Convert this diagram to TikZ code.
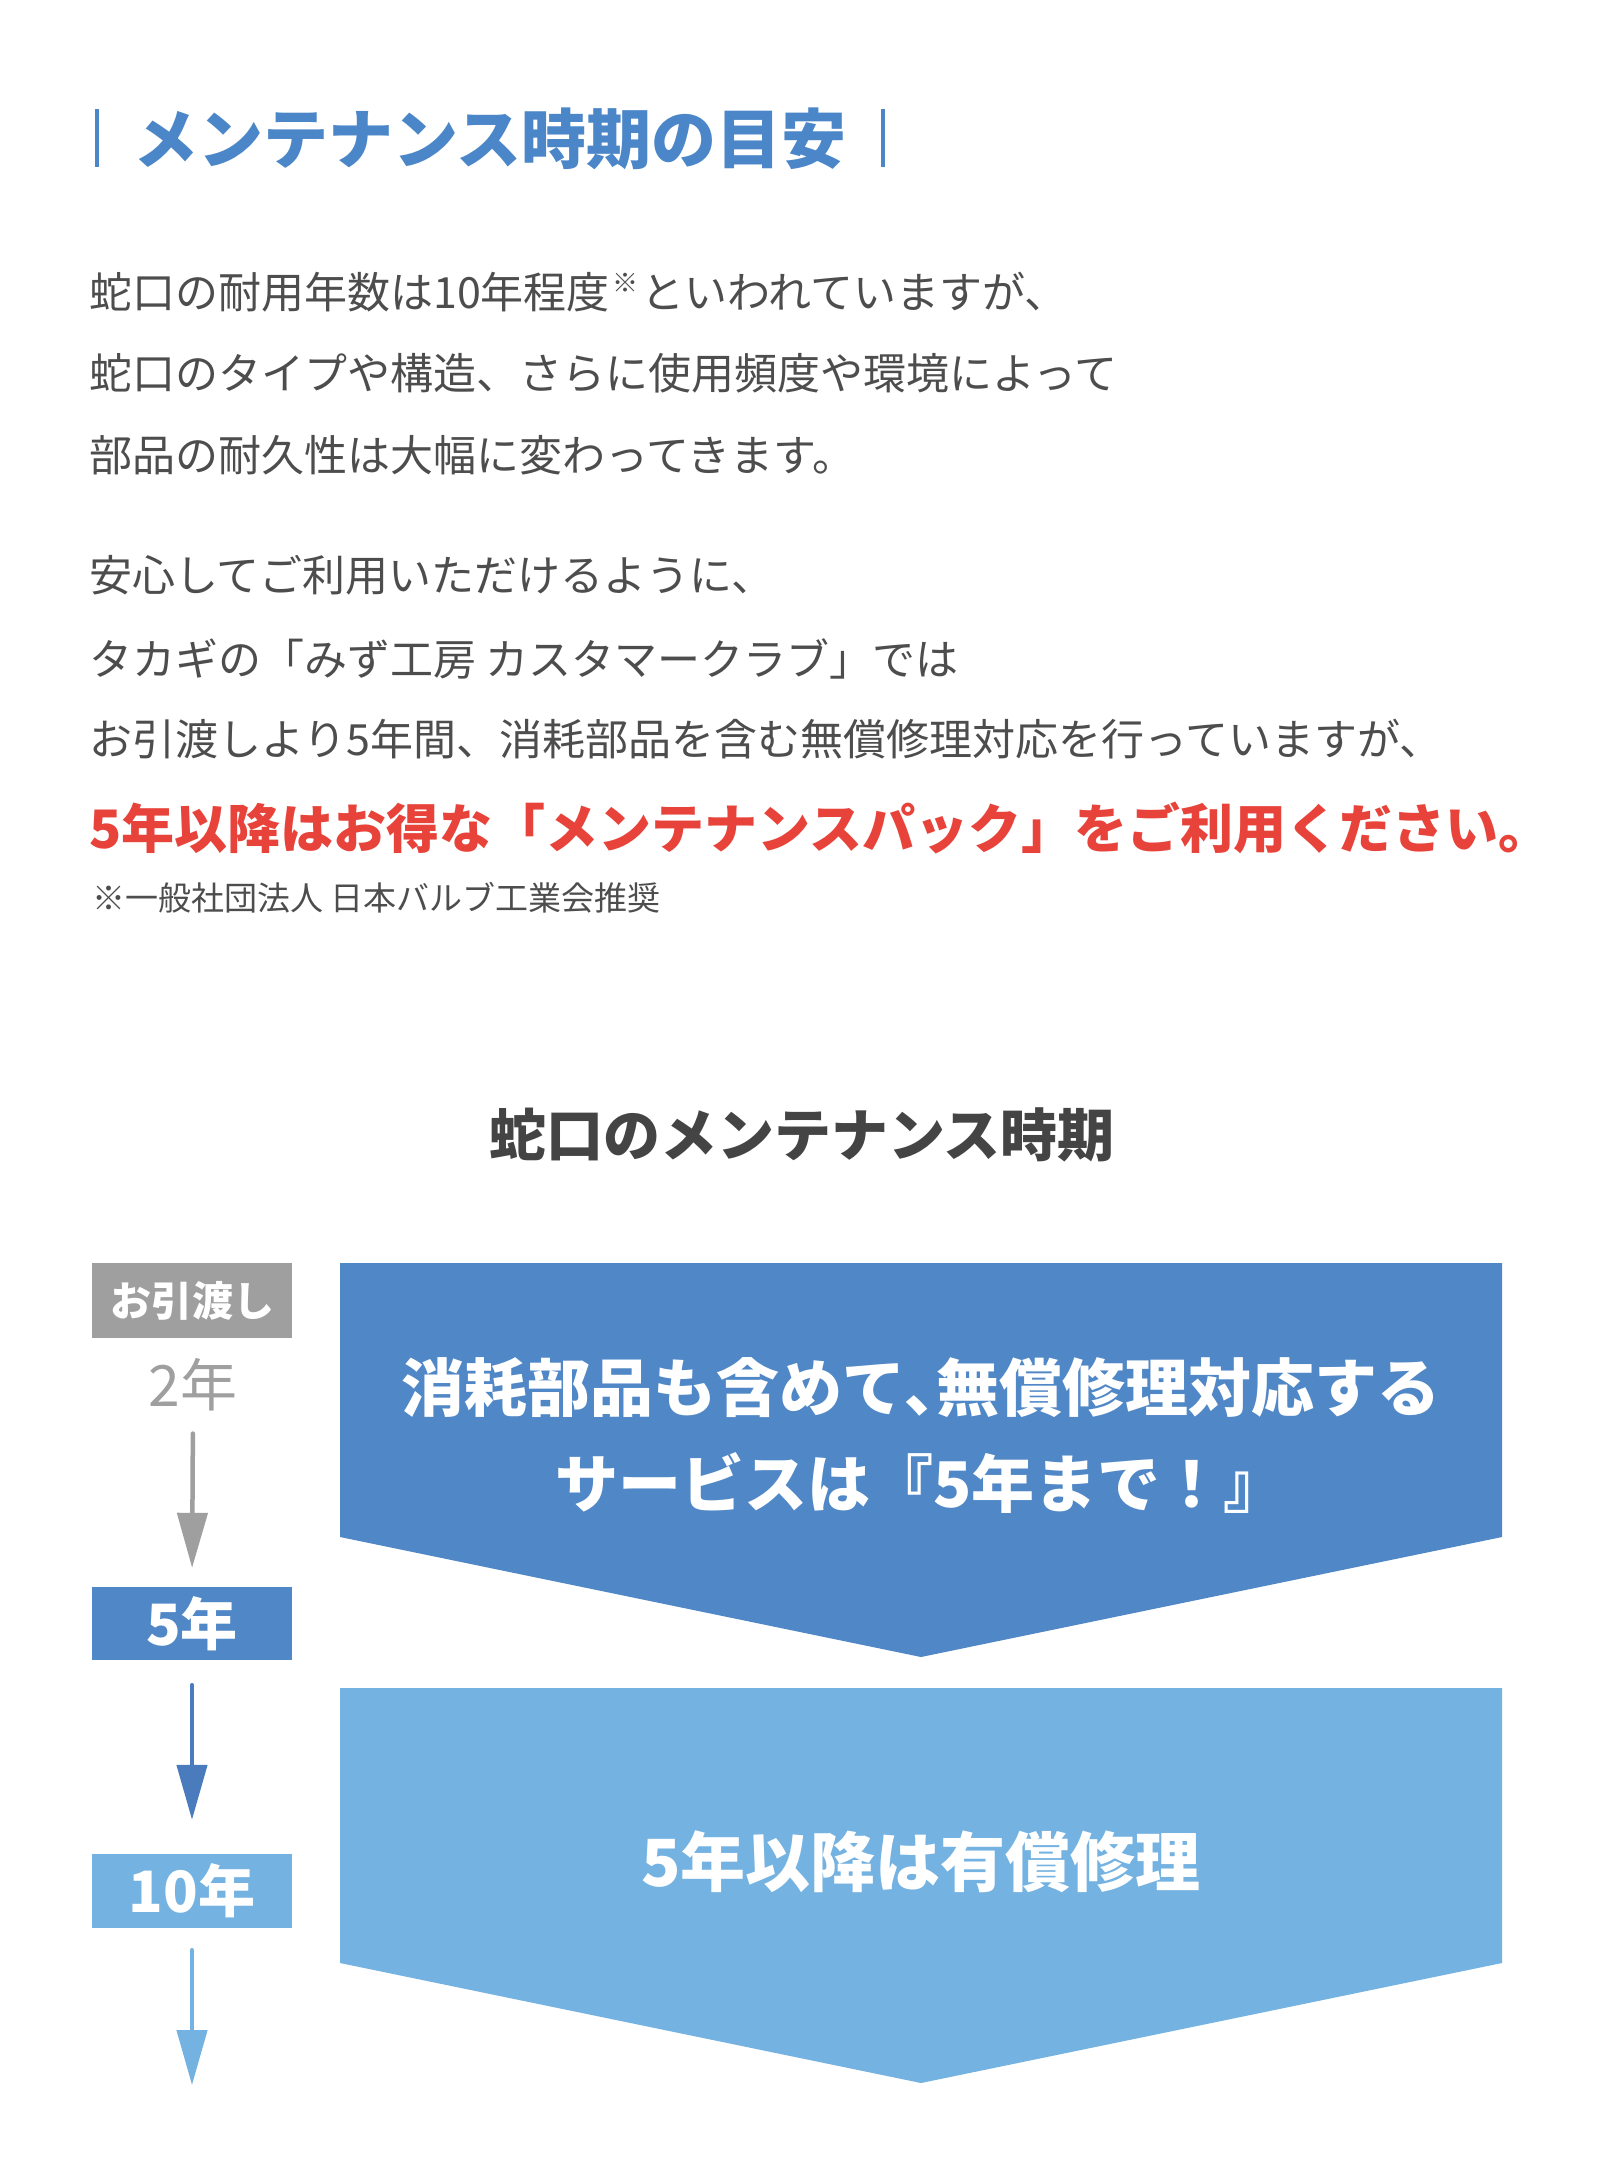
\documentclass[tikz,border=0pt]{standalone}
\usepackage{fontspec}
\setmainfont{Noto Sans CJK JP}
\usetikzlibrary{arrows.meta}
\definecolor{titleblue}{HTML}{4A86C8}
\definecolor{textgray}{HTML}{4D4D4D}
\definecolor{headgray}{HTML}{444444}
\definecolor{accentred}{HTML}{E8433A}
\definecolor{boxgray}{HTML}{9F9F9F}
\definecolor{midblue}{HTML}{5087C6}
\definecolor{arrowblue}{HTML}{4A7BBD}
\definecolor{lightblue}{HTML}{74B2E2}
\tikzset{
  bodyline/.style={anchor=west, inner sep=0pt, text=textgray, font=\fontsize{43}{50}\selectfont},
  yearbox/.style={rectangle, minimum width=200pt, inner sep=0pt, text=white, font=\bfseries\fontsize{57}{60}\selectfont},
  flow/.style={line width=4.5pt, line cap=round, -{Triangle[length=55pt,width=30pt]}},
}
\begin{document}
\begin{tikzpicture}[x=1pt,y=-1pt]
\useasboundingbox (0,0) rectangle (1600,2168);
\fill[white] (0,0) rectangle (1600,2168);

% Title
\draw[titleblue, line width=4.5pt] (97,109) -- (97,167);
\draw[titleblue, line width=4.5pt] (883,109) -- (883,167);
\node[inner sep=0pt, text=titleblue, font=\bfseries\fontsize{65}{70}\selectfont] (title) at (490,139) {メンテナンス時期の目安};

% Body text
\node[bodyline] (l1) at (89,292) {蛇口の耐用年数は10年程度\kern3pt\raisebox{16pt}{\fontsize{26}{26}\selectfont ※}\kern3pt といわれていますが、};
\node[bodyline] (l2) at (89,373) {蛇口のタイプや構造、さらに使用頻度や環境によって};
\node[bodyline] (l3) at (89,455) {部品の耐久性は大幅に変わってきます。};
\node[bodyline] (l4) at (89,575) {安心してご利用いただけるように、};
\node[bodyline] (l5) at (89,659) {タカギの「みず工房 カスタマークラブ」では};
\node[bodyline] (l6) at (89,739) {お引渡しより5年間、消耗部品を含む無償修理対応を行っていますが、};
\node[anchor=west, inner sep=0pt, text=accentred, font=\bfseries\fontsize{53}{60}\selectfont] (red) at (89,828) {5年以降はお得な「メンテナンスパック」をご利用ください。};
\node[anchor=west, inner sep=0pt, text=textgray, font=\fontsize{33}{36}\selectfont] (note) at (92,898) {※一般社団法人 日本バルブ工業会推奨};

% Heading
\node[inner sep=0pt, text=headgray, font=\bfseries\fontsize{57}{64}\selectfont] (head) at (802,1135) {蛇口のメンテナンス時期};

% Pentagons
\fill[midblue] (340,1263) -- (1502,1263) -- (1502,1537) -- (921,1657) -- (340,1537) -- cycle;
\fill[lightblue] (340,1688) -- (1502,1688) -- (1502,1963) -- (921,2083) -- (340,1963) -- cycle;
\node[inner sep=0pt, align=center, text=white, font=\bfseries\fontsize{63}{96}\selectfont] (free) at (921,1435) {消耗部品も含めて､無償修理対応する\\サービスは『5年まで！』};
\node[inner sep=0pt, text=white, font=\bfseries\fontsize{65}{70}\selectfont] (paid) at (921,1862) {5年以降は有償修理};

% Timeline
\node[yearbox, fill=boxgray, minimum height=75pt, font=\bfseries\fontsize{41}{46}\selectfont] (b0) at (192,1300.5) {お引渡し};
\node[inner sep=0pt, text=boxgray, font=\fontsize{57}{60}\selectfont] (y2) at (193,1385) {2年};
\node[yearbox, fill=midblue, minimum height=73pt] (b5) at (192,1623.5) {5年};
\node[yearbox, fill=lightblue, minimum height=74pt] (b10) at (192,1891) {10年};
\coordinate (endpt) at (192,2085);

\draw[flow, boxgray, shorten <=22pt, shorten >=19pt] (y2.south) -- (b5.north);
\draw[flow, arrowblue, shorten <=25pt, shorten >=34pt] (b5.south) -- (b10.north);
\draw[flow, lightblue, shorten <=22pt] (b10.south) -- (endpt);
\end{tikzpicture}
\end{document}
